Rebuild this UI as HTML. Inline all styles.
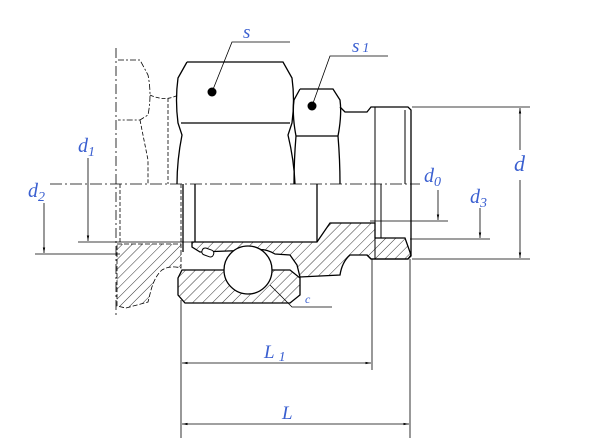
<!DOCTYPE html>
<html><head><style>html,body{margin:0;padding:0;background:#fff}svg{display:block}
.l{font-family:"Liberation Serif",serif;font-style:italic;fill:#3a5fd0}</style></head><body>
<svg width="600" height="438" viewBox="0 0 600 438" xmlns="http://www.w3.org/2000/svg">
<defs>
<pattern id="h" width="7" height="7" patternUnits="userSpaceOnUse" patternTransform="rotate(45)"><line x1="0" y1="0" x2="0" y2="7" stroke="#000" stroke-width="0.8"/></pattern>
<marker id="a" markerWidth="8" markerHeight="8" refX="7" refY="3" orient="auto"><path d="M0,1.5 L7,3 L0,4.5z" fill="#000"/></marker>
</defs>
<g fill="none" stroke="#000" stroke-width="1">
<line x1="50" y1="184" x2="420" y2="184" stroke-dasharray="12,3,2,3" stroke-width="0.8"/>
<line x1="116" y1="48" x2="116" y2="318" stroke-dasharray="10,3,2,3" stroke-width="0.8"/>
<path d="M118,60 H140 L148,75 Q152,95 148,115 L140,120 H118" stroke-dasharray="6,2,2,2" stroke-width="0.8"/>
<path d="M150,95 Q165,102 178,95" stroke-dasharray="4,2" stroke-width="0.8"/>
<path d="M140,120 L148,160 L148,184 M168,98 V184" stroke-dasharray="4,2" stroke-width="0.8"/>
<path d="M120,184 V244 M181,184 V244" stroke-dasharray="4,2" stroke-width="0.8"/>
<path d="M117,244 H181 V268 Q170,265 162,270 Q155,276 151,290 L148,302 L126,308 L117,306 Z" fill="url(#h)" stroke-dasharray="5,2" stroke-width="0.8"/>
<path d="M187,62 H283 L292,78 Q295,100 292,123 L288,135 Q294,160 295,184 M187,62 L178,78 Q175,100 178,123 L182,135 Q177,160 177,184" stroke-width="1.3"/>
<line x1="181" y1="123" x2="290" y2="123" stroke-width="1.3"/>
<line x1="183" y1="184" x2="183" y2="252" stroke-width="1.3"/>
<path d="M300,89 H333 L340,100 Q342,115 338,136 Q340,160 340,184 M300,89 L294,100 Q292,115 296,136 Q294,160 294,184" stroke-width="1.3"/>
<line x1="296" y1="136" x2="338" y2="136" stroke-width="1.3"/>
<path d="M340,107 L345,112 H367 L371,107 H408 L411,110 V256 L408,259 H371 L367,255" stroke-width="1.3"/>
<line x1="375" y1="107" x2="375" y2="259" stroke-width="1"/>
<line x1="405" y1="110" x2="405" y2="184"/>
<line x1="381" y1="184" x2="381" y2="238"/>
<path d="M195,184 V242 M317,184 V242" stroke-width="1.3"/>
<path d="M192,242 H317 L330,223 H375 V238 H405 L411,255 L408,259 H371 L367,255 L350,255 Q342,262 340,275 L300,277 L297,265 L290,255 L275,254 Q265,248 255,250 L200,252 L192,247 Z" fill="url(#h)" stroke-width="1.3"/>
<path d="M182,270 H290 L300,278 V295 L290,303 H185 L178,295 V278 Z" fill="url(#h)" stroke-width="1.3"/>
<circle cx="248" cy="270" r="24" fill="#fff" stroke-width="1.3"/>
<rect x="202" y="249" width="12" height="7" rx="3" transform="rotate(20 208 252)" fill="#fff" stroke-width="1"/>
<path d="M212,92 L232,42 H290 M312,106 L330,56 H388 M270,285 L292,307 H332" stroke-width="0.8"/>
<path d="M412,107 H530 M412,259 H530 M78,242 H200 M35,254 H120 M370,221 H448 M410,239 H490" stroke-width="0.8"/>
<line x1="520" y1="150" x2="520" y2="108" marker-end="url(#a)" stroke-width="0.8"/>
<line x1="520" y1="180" x2="520" y2="258" marker-end="url(#a)" stroke-width="0.8"/>
<line x1="88" y1="158" x2="88" y2="241" marker-end="url(#a)" stroke-width="0.8"/>
<line x1="44" y1="203" x2="44" y2="253" marker-end="url(#a)" stroke-width="0.8"/>
<line x1="438" y1="190" x2="438" y2="220" marker-end="url(#a)" stroke-width="0.8"/>
<line x1="480" y1="208" x2="480" y2="238" marker-end="url(#a)" stroke-width="0.8"/>
<path d="M181,300 V438 M372,259 V370 M410,259 V438" stroke-width="0.8"/>
<line x1="270" y1="363" x2="182" y2="363" marker-end="url(#a)" stroke-width="0.8"/>
<line x1="270" y1="363" x2="371" y2="363" marker-end="url(#a)" stroke-width="0.8"/>
<line x1="290" y1="424" x2="182" y2="424" marker-end="url(#a)" stroke-width="0.8"/>
<line x1="290" y1="424" x2="409" y2="424" marker-end="url(#a)" stroke-width="0.8"/>
</g>
<circle cx="212" cy="92" r="4.5"/>
<circle cx="312" cy="106" r="4.5"/>
<text class="l" x="243" y="38" font-size="19">s</text>
<text class="l" x="352" y="52" font-size="19">s<tspan font-size="14" dx="3">1</tspan></text>
<text class="l" x="78" y="152" font-size="20">d<tspan font-size="14" dy="4">1</tspan></text>
<text class="l" x="28" y="197" font-size="20">d<tspan font-size="14" dy="4">2</tspan></text>
<text class="l" x="424" y="182" font-size="20">d<tspan font-size="14" dy="4">0</tspan></text>
<text class="l" x="470" y="203" font-size="20">d<tspan font-size="14" dy="4">3</tspan></text>
<text class="l" x="514" y="171" font-size="22">d</text>
<text class="l" x="305" y="303" font-size="12">c</text>
<text class="l" x="264" y="358" font-size="19">L<tspan font-size="14" dx="4" dy="3">1</tspan></text>
<text class="l" x="282" y="419" font-size="19">L</text>
</svg>
</body></html>
